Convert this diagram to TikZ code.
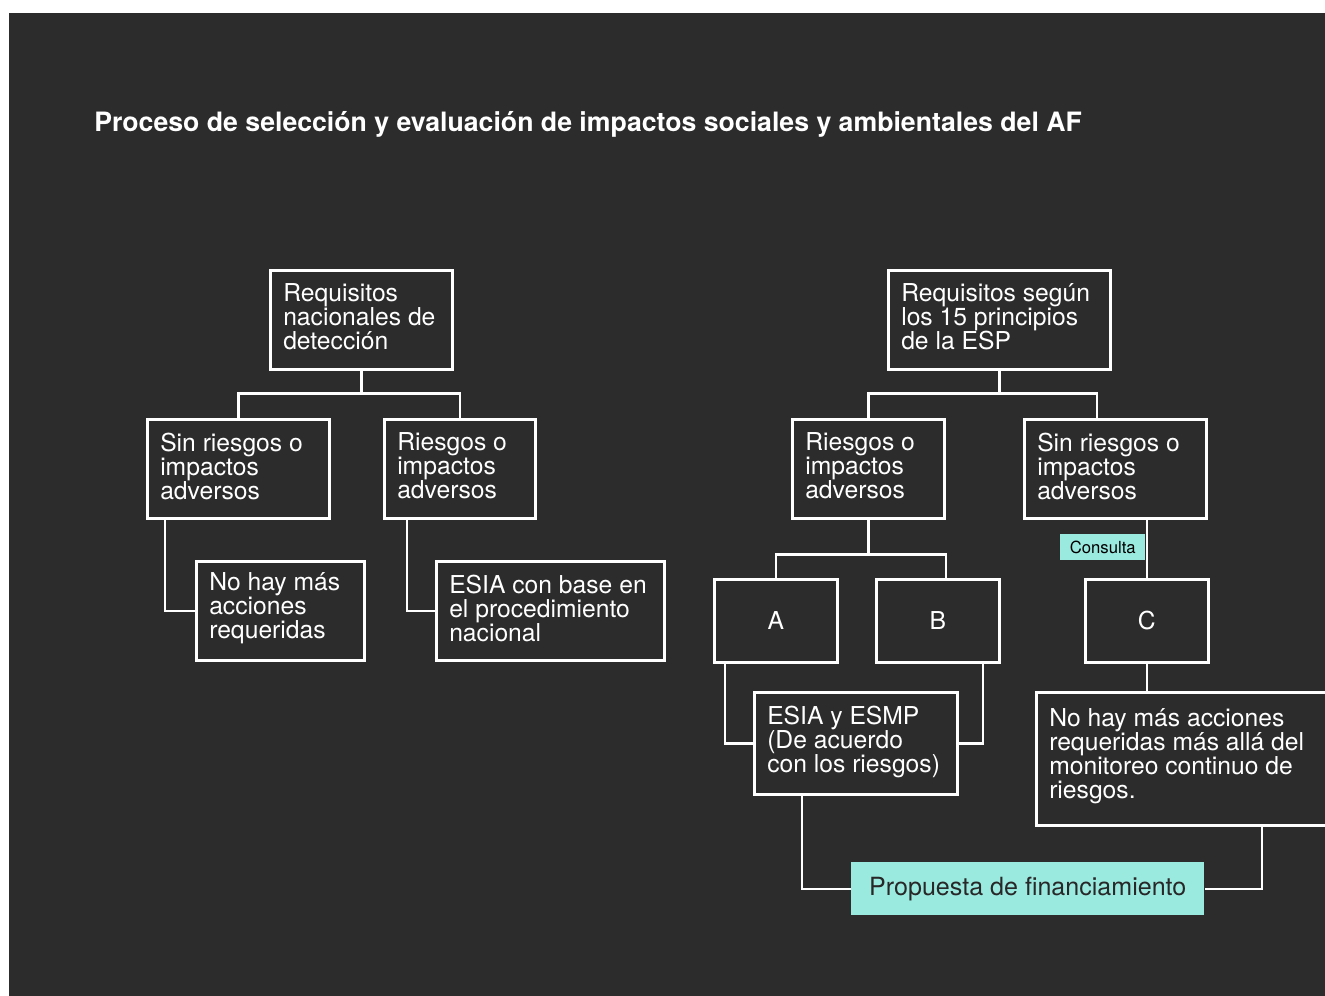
\documentclass[tikz,border=0pt]{standalone}
\usepackage{fontspec}
\setmainfont{TeX Gyre Heros}
\definecolor{bgc}{RGB}{44,44,44}
\definecolor{tealc}{RGB}{154,234,224}
\definecolor{darktxt}{RGB}{40,40,40}
\tikzset{
  bx/.style={draw=white, line width=1.9pt, anchor=north west, inner sep=0pt},
  sz/.style 2 args={minimum width=#1*0.75pt, minimum height=#2*0.75pt},
  txt/.style={text=white, align=left, inner sep=0pt, anchor=west, font=\fontsize{18.5pt}{18pt}\selectfont},
  ctxt/.style={text=white, font=\fontsize{18.5pt}{18pt}\selectfont},
  conn/.style={draw=white, line width=1.9pt},
  tag/.style={fill=tealc, anchor=north west, inner sep=0pt}
}
\begin{document}
\begin{tikzpicture}[x=0.75pt,y=-0.75pt]
\useasboundingbox (0,0) rectangle (1325,996);
\fill[white] (0,0) rectangle (1325,996);
\fill[bgc] (9,13) rectangle (1325,996);

\node[anchor=base west, inner sep=0pt, text=white, font=\bfseries\fontsize{20pt}{24pt}\selectfont] (title) at (94,131)
  {Proceso de selección y evaluación de impactos sociales y ambientales del AF};

% left tree
\node[bx, sz={182}{99}] (R1) at (269,269) {};
\node[bx, sz={182}{99}] (L1) at (146,418) {};
\node[bx, sz={151}{99}] (L2) at (383,418) {};
\node[bx, sz={168}{99}] (L3) at (195,560) {};
\node[bx, sz={228}{99}] (L4) at (435,560) {};

% right tree
\node[bx, sz={222}{99}] (R2) at (887,269) {};
\node[bx, sz={152}{99}] (R3) at (791,418) {};
\node[bx, sz={182}{99}] (R4) at (1023,418) {};
\node[bx, sz={123}{83}, ctxt] (nA) at (713,578) {A};
\node[bx, sz={123}{83}, ctxt] (nB) at (875,578) {B};
\node[bx, sz={123}{83}, ctxt] (nC) at (1084,578) {C};
\node[bx, sz={203}{102}] (E) at (753,691) {};
\node[bx, sz={305}{133}] (N) at (1035,691) {};
\node[tag, sz={353}{53}, text=darktxt, font=\fontsize{18.8pt}{18pt}\selectfont] (P) at (851,862) {Propuesta de financiamiento};

% texts
\node[txt] (tR1) at ([xshift=10.5pt,yshift=2pt]R1.west) {Requisitos\\nacionales de\\detección};
\node[txt] (tL1) at ([xshift=10.5pt,yshift=2pt]L1.west) {Sin riesgos o\\impactos\\adversos};
\node[txt] (tL2) at ([xshift=10.5pt,yshift=2pt]L2.west) {Riesgos o\\impactos\\adversos};
\node[txt] (tL3) at ([xshift=10.5pt,yshift=2pt]L3.west) {No hay más\\acciones\\requeridas};
\node[txt] (tL4) at ([xshift=10.5pt,yshift=2pt]L4.west) {ESIA con base en\\el procedimiento\\nacional};
\node[txt] (tR2) at ([xshift=10.5pt,yshift=2pt]R2.west) {Requisitos según\\los 15 principios\\de la ESP};
\node[txt] (tR3) at ([xshift=10.5pt,yshift=2pt]R3.west) {Riesgos o\\impactos\\adversos};
\node[txt] (tR4) at ([xshift=10.5pt,yshift=2pt]R4.west) {Sin riesgos o\\impactos\\adversos};
\node[txt] (tE) at ([xshift=10.5pt,yshift=1pt]E.west) {ESIA y ESMP\\(De acuerdo\\con los riesgos)};
\node[txt] (tN) at ([xshift=10.5pt,yshift=2pt]N.west) {No hay más acciones\\requeridas más allá del\\monitoreo continuo de\\riesgos.};

% connectors left
\draw[conn] (R1.south) -- ++(0,23) coordinate (j1);
\draw[conn] (L1.north) |- (j1) -| (L2.north);
\draw[conn] ([xshift=14.25pt]L1.south west) |- (L3.west);
\draw[conn] ([xshift=18pt]L2.south west) |- (L4.west);

% connectors right
\draw[conn] (R2.south) -- ++(0,23) coordinate (j2);
\draw[conn] (R3.north) |- (j2) -| ([xshift=55.5pt]R4.north west);
\draw[conn] (R3.south) -- ++(0,35) coordinate (j3);
\draw[conn] (nA.north) |- (j3) -| ([xshift=53.25pt]nB.north west);
\draw[conn] (nC.north) -- (nC.north |- R4.south);
\draw[conn] ([xshift=9pt]nA.south west) |- (E.west);
\draw[conn] ([xshift=81pt]nB.south west) |- (E.east);
\draw[conn] (nC.south) -- (nC.south |- N.north);
\draw[conn] ([xshift=36.75pt]E.south west) |- (P.west);
\draw[conn] ([xshift=170.25pt]N.south west) |- (P.east);

\node[tag, sz={85}{26}, text=black, font=\fontsize{12.5pt}{14pt}\selectfont] (cons) at (1060,534) {Consulta};
\end{tikzpicture}
\end{document}
